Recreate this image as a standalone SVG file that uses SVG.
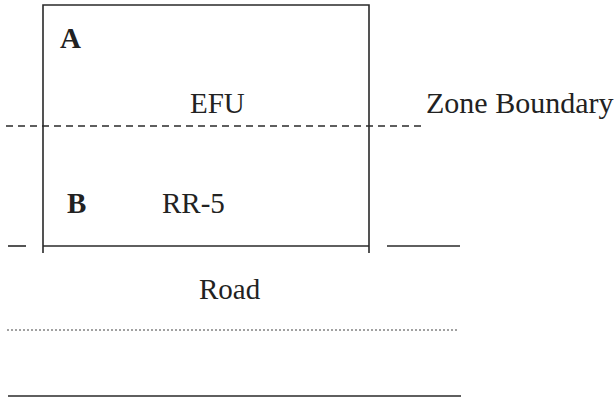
<svg xmlns="http://www.w3.org/2000/svg" width="615" height="398" viewBox="0 0 615 398">
<style>
.t{font-family:"Liberation Serif","Times New Roman",serif;font-size:29px;fill:#222}
.b{font-weight:bold}
.ln{stroke:#2a2a2a;stroke-width:1.6;fill:none}
.dash{stroke:#2a2a2a;stroke-width:1.4;stroke-dasharray:7,5;fill:none}
.dot{stroke:#444;stroke-width:1;stroke-dasharray:2,2;fill:none}
</style>
<rect width="615" height="398" fill="#fff"/>
<g id="parcel">
<path class="ln" d="M43,253 V5 H369 V253"/>
<path class="ln" d="M43,246 H369"/>
</g>
<g id="lines">
<path class="dash" d="M6,126 H422"/>
<path class="ln" d="M8,246 H26"/>
<path class="ln" d="M387,246 H460"/>
<path class="dot" d="M7,330 H458"/>
<path class="ln" d="M8,396 H461"/>
</g>
<g id="labels">
<text class="t b" x="60" y="48">A</text>
<text class="t" x="190" y="113">EFU</text>
<text class="t" x="426" y="113" style="font-size:30px">Zone Boundary</text>
<text class="t b" x="67" y="213">B</text>
<text class="t" x="162" y="213">RR-5</text>
<text class="t" x="199" y="299">Road</text>
</g>
</svg>
